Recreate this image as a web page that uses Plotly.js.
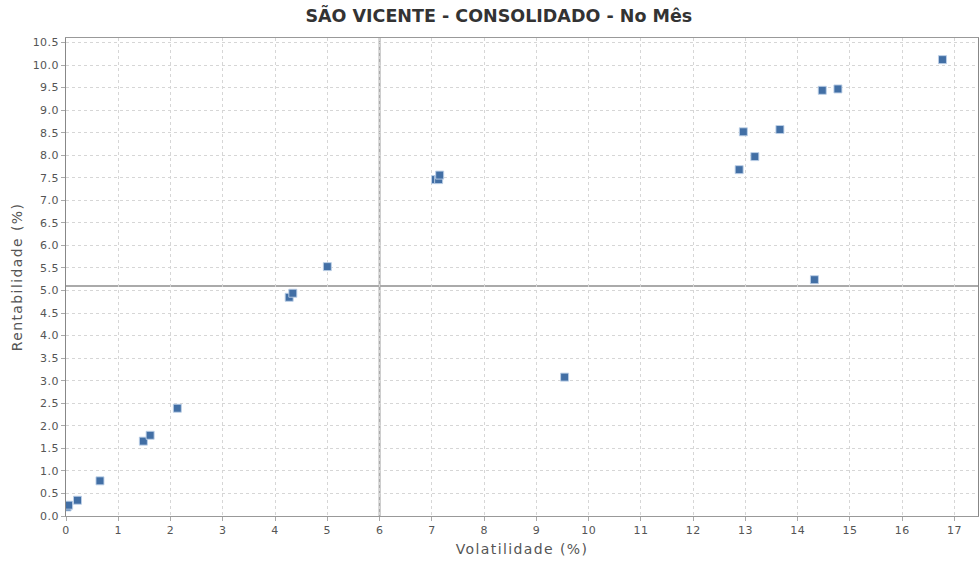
<!DOCTYPE html>
<html>
<head>
<meta charset="utf-8">
<script src="https://cdn.plot.ly/plotly-3.0.1.min.js"></script>
<style>
html,body{margin:0;padding:0;background:#fff;}
#chart{width:980px;height:563px;}
.xtitle,.ytitle{letter-spacing:1.4px !important;}
.xtick text,.ytick text{letter-spacing:0.4px !important;}
</style>
</head>
<body>
<div id="chart"></div>
<script>
const volatilidade = [0.02, 0.05, 0.22, 0.65, 1.48, 1.61, 2.13, 4.27, 4.34, 5.00, 7.07, 7.13, 7.15, 9.54, 12.88, 12.96, 13.18, 13.66, 14.32, 14.47, 14.77, 16.77];
const rentabilidade = [0.20, 0.24, 0.35, 0.78, 1.66, 1.79, 2.39, 4.85, 4.94, 5.53, 7.46, 7.46, 7.56, 3.08, 7.68, 8.52, 7.97, 8.57, 5.24, 9.44, 9.47, 10.12];
const refVol = 6.0;
const refRent = 5.1;
const chartTitle = 'SÃO VICENTE - CONSOLIDADO - No Mês';
const xTitle = 'Volatilidade (%)';
const yTitle = 'Rentabilidade (%)';

const font = 'DejaVu Sans, Verdana, sans-serif';
const trace = {
  x: volatilidade, y: rentabilidade, type: 'scatter', mode: 'markers',
  marker: {symbol: 'square', size: 8, color: 'rgb(66,111,165)', line: {color: 'rgba(190,208,232,0.9)', width: 1}},
  hoverinfo: 'x+y', showlegend: false
};
const layout = {
  width: 980, height: 563,
  margin: {l: 66, r: 2, t: 38, b: 47},
  paper_bgcolor: '#fff', plot_bgcolor: '#fff',
  title: {text: '<b>' + chartTitle + '</b>', x: 0.509, xanchor: 'center', y: 0.971, yanchor: 'middle', font: {family: font, size: 17.5, color: '#333'}},
  xaxis: {
    range: [0, 17.45], dtick: 1, tick0: 0, zeroline: false,
    showgrid: true, gridcolor: '#d6d6d6', griddash: '3px,3px', gridwidth: 1,
    showline: true, linecolor: '#999', linewidth: 1, mirror: true,
    ticks: 'outside', ticklen: 4, tickcolor: '#aaa',
    tickfont: {family: font, size: 11, color: '#555'},
    title: {text: xTitle, font: {family: font, size: 14, color: '#555'}, standoff: 7}
  },
  yaxis: {
    range: [0, 10.6], dtick: 0.5, tick0: 0, tickformat: '.1f', zeroline: false,
    showgrid: true, gridcolor: '#d6d6d6', griddash: '3px,3px', gridwidth: 1,
    showline: true, linecolor: '#888', linewidth: 1, mirror: true,
    ticks: 'outside', ticklen: 4, tickcolor: '#aaa',
    tickfont: {family: font, size: 11, color: '#555'},
    title: {text: yTitle, font: {family: font, size: 14, color: '#555'}, standoff: 6}
  },
  shapes: [
    {type: 'line', xref: 'x', yref: 'paper', x0: refVol, x1: refVol, y0: 0, y1: 1, line: {color: '#aaa', width: 2}, layer: 'below'},
    {type: 'line', xref: 'paper', yref: 'y', x0: 0, x1: 1, y0: refRent, y1: refRent, line: {color: '#aaa', width: 2}, layer: 'below'}
  ]
};
Plotly.newPlot('chart', [trace], layout, {displayModeBar: false, staticPlot: true});
</script>
</body>
</html>
